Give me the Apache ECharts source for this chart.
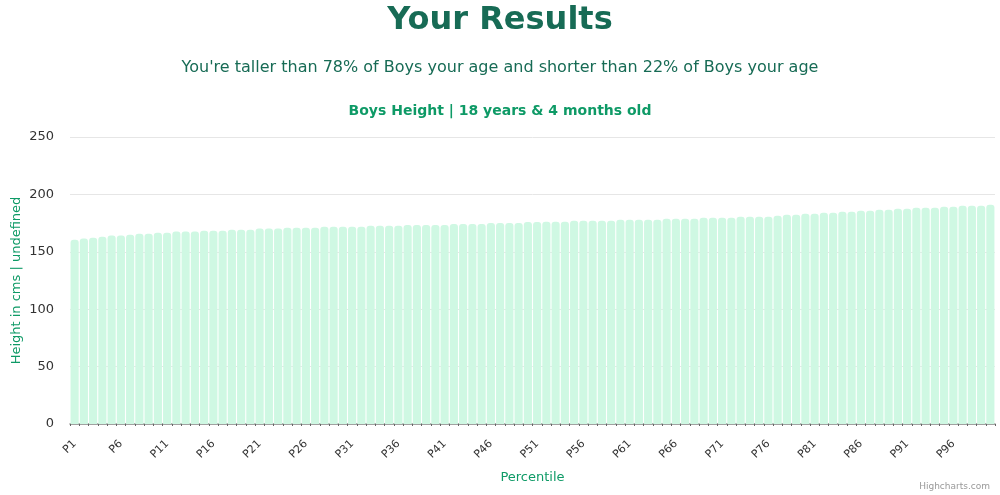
<!DOCTYPE html>
<html>
<head>
<meta charset="utf-8">
<script src="https://cdn.jsdelivr.net/npm/echarts@6/dist/echarts.min.js"></script>
<style>
  html, body { margin: 0; padding: 0; background: #fff; }
  #main { width: 1000px; height: 495px; }
</style>
</head>
<body>
<div id="main"></div>
<script>
// percentile labels P1..P100
const percentiles = Array.from({ length: 100 }, (_, i) => 'P' + (i + 1))

// height in cm at each percentile
const heights = [
  160.6, 161.5, 162.3, 163.2, 164.1, 164.1, 164.9, 165.8, 165.8, 166.7,
  166.7, 167.6, 167.6, 167.6, 168.4, 168.4, 168.4, 169.3, 169.3, 169.3,
  170.2, 170.2, 170.2, 171.0, 171.0, 171.0, 171.0, 171.9, 171.9, 171.9,
  171.9, 171.9, 172.6, 172.6, 172.6, 172.8, 173.3, 173.3, 173.3, 173.3,
  173.3, 174.2, 174.2, 174.2, 174.2, 175.1, 175.1, 175.1, 175.1, 176.0,
  176.0, 176.2, 176.1, 176.2, 177.1, 177.1, 177.1, 177.1, 177.1, 178.0,
  178.0, 178.0, 178.0, 178.0, 178.8, 178.8, 178.8, 178.8, 179.7, 179.7,
  179.7, 179.7, 180.6, 180.6, 180.6, 180.6, 181.4, 182.3, 182.3, 183.2,
  183.2, 184.1, 184.1, 184.9, 184.9, 185.8, 185.8, 186.7, 186.7, 187.5,
  187.5, 188.4, 188.4, 188.4, 189.3, 189.3, 190.1, 190.1, 190.1, 191.0
]

const yTicks = [0, 50, 100, 150, 200, 250]

const titleText = 'Your Results'
const subtitleText = "You're taller than 78% of Boys your age and shorter than 22% of Boys your age"
const chartTitle = 'Boys Height | 18 years & 4 months old'

const font = 'DejaVu Sans, sans-serif'
const green = '#0e9a66'
const darkGreen = '#176b55'

const myChart = echarts.init(document.getElementById('main'))

myChart.setOption({
  animation: false,
  textStyle: { fontFamily: font },
  title: [
    {
      text: titleText, left: 'center', top: 0,
      textStyle: { fontSize: 32, fontWeight: 'bold', color: darkGreen, fontFamily: font }
    },
    {
      text: subtitleText, left: 'center', top: 55,
      textStyle: { fontSize: 16, fontWeight: 'normal', color: darkGreen, fontFamily: font }
    },
    {
      text: chartTitle, left: 'center', top: 99,
      textStyle: { fontSize: 14, fontWeight: 'bold', color: green, fontFamily: font }
    },
    {
      text: 'Highcharts.com', right: 5, bottom: -1,
      textStyle: { fontSize: 9, fontWeight: 'normal', color: '#999', fontFamily: font }
    }
  ],
  grid: { left: 70, right: 5, top: 137, bottom: 71, containLabel: false, outerBoundsMode: 'none' },
  xAxis: {
    type: 'category',
    data: percentiles,
    name: 'Percentile',
    nameLocation: 'middle',
    nameGap: 47,
    nameMoveOverlap: false,
    nameTextStyle: { color: green, fontSize: 13 },
    axisLine: { lineStyle: { color: '#8a8a8a', width: 1.5 } },
    axisTick: { show: true, length: 2, lineStyle: { color: '#666' }, interval: 0 },
    axisLabel: { rotate: 45, interval: 4, fontSize: 11, color: '#333', margin: 18 }
  },
  yAxis: {
    type: 'value',
    min: yTicks[0],
    max: yTicks[yTicks.length - 1],
    interval: 50,
    name: 'Height in cms | undefined',
    nameLocation: 'middle',
    nameGap: 47,
    nameMoveOverlap: false,
    nameTextStyle: { color: green, fontSize: 13 },
    axisLine: { show: false },
    axisTick: { show: false },
    axisLabel: { color: '#333', fontSize: 13, margin: 16 },
    splitLine: { lineStyle: { color: '#e6e6e6' } }
  },
  series: [{
    type: 'bar',
    data: heights,
    barCategoryGap: '12%',
    itemStyle: { color: '#cff8e3', borderRadius: [3, 3, 0, 0] }
  }]
})
</script>
</body>
</html>
